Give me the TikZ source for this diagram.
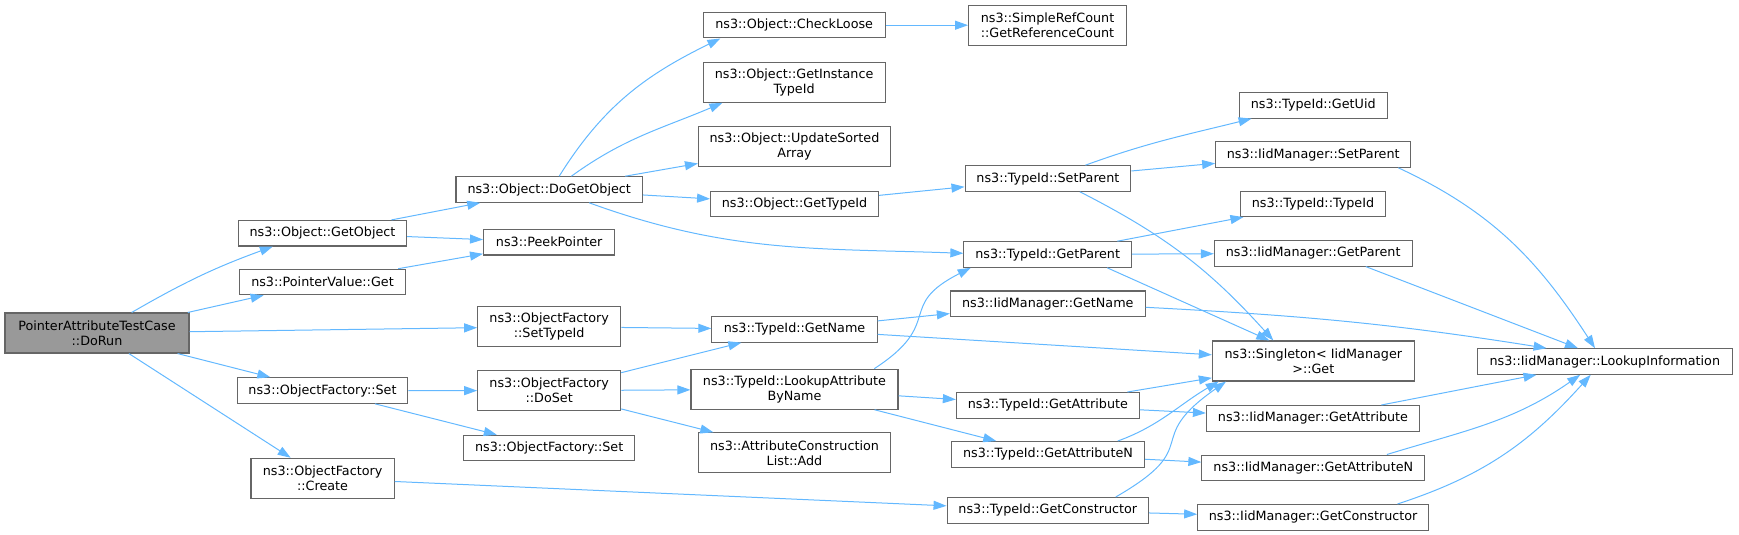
\documentclass[tikz,border=0pt]{standalone}
\usepackage{fontspec}
\setmainfont{DejaVu Sans}
\usetikzlibrary{arrows.meta}
\definecolor{edgeblue}{HTML}{63B8FF}
\definecolor{boxgray}{HTML}{666666}
\definecolor{curgray}{HTML}{999999}
\tikzset{
  fn/.style={draw=boxgray, line width=1.1pt, fill=white, inner sep=0pt, minimum height=25.5pt, align=center},
  fntwo/.style={fn, minimum height=40pt},
  fncur/.style={fntwo, fill=curgray},
  call/.style={edgeblue, line width=1pt, ->}
}
\begin{document}
\begin{tikzpicture}[x=1pt, y=1pt, >={Triangle[length=13pt,width=9pt]}, font=\fontsize{12.75}{15}\selectfont]
\useasboundingbox (0,0) rectangle (1739,-535);
% column 1
\node[fncur, minimum width=184pt] (DoRun) at (97,-333) {PointerAttributeTestCase\\::DoRun};
% column 2
\node[fn, minimum width=168pt] (GetObject) at (322.5,-233.2) {ns3::Object::GetObject};
\node[fn, minimum width=166.5pt] (PtrGet) at (322.5,-282) {ns3::PointerValue::Get};
\node[fn, minimum width=170.4pt] (OFSet) at (322.5,-390.5) {ns3::ObjectFactory::Set};
\node[fntwo, minimum width=143.2pt] (OFCreate) at (322.6,-478.3) {ns3::ObjectFactory\\::Create};
% column 3
\node[fn, minimum width=186.5pt] (DoGetObject) at (549.2,-189.5) {ns3::Object::DoGetObject};
\node[fn, minimum width=131.3pt] (PeekPointer) at (549.2,-242.2) {ns3::PeekPointer};
\node[fntwo, minimum width=143pt] (SetTypeId) at (549.2,-326.7) {ns3::ObjectFactory\\::SetTypeId};
\node[fntwo, minimum width=143pt] (DoSet) at (549.2,-390.7) {ns3::ObjectFactory\\::DoSet};
\node[fn, minimum width=170.8pt] (OFSetB) at (549.2,-448) {ns3::ObjectFactory::Set};
% column 4
\node[fn, minimum width=182pt] (CheckLoose) at (794.2,-25.2) {ns3::Object::CheckLoose};
\node[fntwo, minimum width=182pt] (GetInstance) at (794.1,-82.3) {ns3::Object::GetInstance\\TypeId};
\node[fntwo, minimum width=192pt] (UpdateSorted) at (794.5,-146.6) {ns3::Object::UpdateSorted\\Array};
\node[fn, minimum width=168pt] (ObjGetTypeId) at (794.6,-203.8) {ns3::Object::GetTypeId};
\node[fn, minimum width=165.3pt] (TidGetName) at (794.5,-329.3) {ns3::TypeId::GetName};
\node[fntwo, minimum width=207pt] (LookupAttr) at (794.5,-389.2) {ns3::TypeId::LookupAttribute\\ByName};
\node[fntwo, minimum width=192.5pt] (AttrAdd) at (794.5,-452.8) {ns3::AttributeConstruction\\List::Add};
% column 5
\node[fntwo, minimum width=157.8pt] (RefCount) at (1047.5,-25.2) {ns3::SimpleRefCount\\::GetReferenceCount};
\node[fn, minimum width=165.7pt] (TidSetParent) at (1047.9,-178.5) {ns3::TypeId::SetParent};
\node[fn, minimum width=167.6pt] (TidGetParent) at (1047.7,-254.5) {ns3::TypeId::GetParent};
\node[fn, minimum width=194.8pt] (IidGetName) at (1047.8,-303.7) {ns3::IidManager::GetName};
\node[fn, minimum width=183pt] (TidGetAttribute) at (1047.9,-405.3) {ns3::TypeId::GetAttribute};
\node[fn, minimum width=193.3pt] (TidGetAttributeN) at (1048,-454.3) {ns3::TypeId::GetAttributeN};
\node[fn, minimum width=201.4pt] (TidGetConstructor) at (1047.8,-510.3) {ns3::TypeId::GetConstructor};
% column 6
\node[fn, minimum width=148.3pt] (TidGetUid) at (1313.2,-105.3) {ns3::TypeId::GetUid};
\node[fn, minimum width=195pt] (IidSetParent) at (1313.2,-154.5) {ns3::IidManager::SetParent};
\node[fn, minimum width=145.4pt] (TidTypeId) at (1313,-203.8) {ns3::TypeId::TypeId};
\node[fn, minimum width=197.7pt] (IidGetParent) at (1313.2,-253.3) {ns3::IidManager::GetParent};
\node[fntwo, minimum width=201.8pt] (Singleton) at (1313.3,-361) {ns3::Singleton< IidManager\\>::Get};
\node[fn, minimum width=213.1pt] (IidGetAttribute) at (1313,-418.3) {ns3::IidManager::GetAttribute};
\node[fn, minimum width=222.8pt] (IidGetAttributeN) at (1313.3,-467.8) {ns3::IidManager::GetAttributeN};
\node[fn, minimum width=230.8pt] (IidGetConstructor) at (1313.1,-517.3) {ns3::IidManager::GetConstructor};
% column 7
\node[fn, minimum width=255.1pt] (LookupInfo) at (1604.8,-361.5) {ns3::IidManager::LookupInformation};
% straight calls
\foreach \a/\b in {DoRun/PtrGet, DoRun/SetTypeId, DoRun/OFSet, DoRun/OFCreate,
  GetObject/DoGetObject, GetObject/PeekPointer, PtrGet/PeekPointer,
  SetTypeId/TidGetName, OFSet/DoSet, OFSet/OFSetB, OFCreate/TidGetConstructor,
  DoSet/TidGetName, DoSet/LookupAttr, DoSet/AttrAdd,
  DoGetObject/UpdateSorted, DoGetObject/ObjGetTypeId, CheckLoose/RefCount,
  ObjGetTypeId/TidSetParent, TidSetParent/IidSetParent, TidGetParent/TidTypeId,
  TidGetParent/IidGetParent, TidGetName/IidGetName, TidGetName/Singleton,
  LookupAttr/TidGetAttribute, LookupAttr/TidGetAttributeN, TidGetAttribute/Singleton,
  TidGetAttribute/IidGetAttribute, TidGetAttributeN/IidGetAttributeN,
  TidGetConstructor/IidGetConstructor, IidGetAttribute/LookupInfo}
  \draw[call] (\a) -- (\b);
% bent calls
\draw[call] ([xshift=34.7pt]DoRun.north) to[out=30, in=-160] ([xshift=-49.7pt]GetObject.south);
\draw[call] ([xshift=10pt]DoGetObject.north) to[out=58, in=-154] ([xshift=-73.8pt]CheckLoose.south);
\draw[call] ([xshift=22.2pt]DoGetObject.north) to[out=36, in=-157] ([xshift=-71.7pt]GetInstance.south);
\draw[call] ([xshift=40pt]DoGetObject.south) to[out=-20, in=178] ([yshift=1.2pt]TidGetParent.west);
\draw[call] ([xshift=37.5pt]TidSetParent.north) to[out=20, in=-166] ([xshift=-61.6pt]TidGetUid.south);
\draw[call] ([xshift=32pt]TidSetParent.south) to[out=-27, in=132] ([xshift=-40pt]Singleton.north);
\draw[call] ([xshift=59.5pt]TidGetParent.south) -- ([xshift=-44pt]Singleton.north);
\draw[call] ([xshift=79.8pt]LookupAttr.north) .. controls +(33:85pt) and +(-153:85pt) .. ([xshift=-77pt]TidGetParent.south);
\draw[call] ([xshift=69.8pt]TidGetAttributeN.north) .. controls +(20:45pt) and +(-150:45pt) .. ([xshift=-94.6pt]Singleton.south);
\draw[call] ([xshift=67.9pt]TidGetConstructor.north) .. controls +(30:105pt) and +(-145:105pt) .. ([xshift=-87.3pt]Singleton.south);
\draw[call] ([xshift=85.1pt]IidSetParent.south) to[out=-25, in=123] ([xshift=-9.8pt]LookupInfo.north);
\draw[call] ([xshift=52.6pt]IidGetParent.south) -- ([xshift=-26.8pt]LookupInfo.north);
\draw[call] ([yshift=-3.6pt]IidGetName.east) to[out=-3, in=171] ([xshift=-58.2pt]LookupInfo.north);
\draw[call] ([xshift=73.6pt]IidGetAttributeN.north) to[out=17, in=-145] ([xshift=-24.6pt]LookupInfo.south);
\draw[call] ([xshift=84.3pt]IidGetConstructor.north) to[out=18, in=-132] ([xshift=-14.1pt]LookupInfo.south);
\end{tikzpicture}
\end{document}
